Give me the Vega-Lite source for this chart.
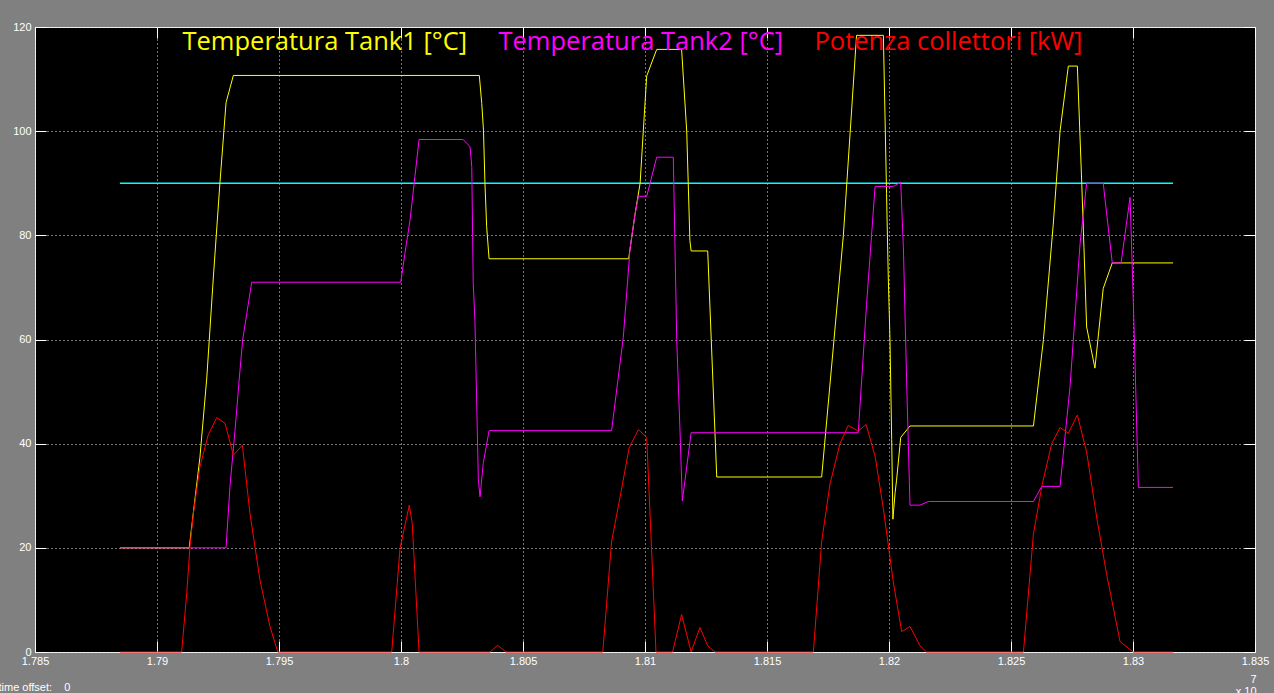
{
  "$schema": "https://vega.github.io/schema/vega-lite/v6.json",
  "width": 1220,
  "height": 625,
  "autosize": {"type": "none"},
  "padding": {"left": 35, "top": 27, "right": 19, "bottom": 41},
  "background": "#808080",
  "config": {
    "view": {"fill": "#000000", "stroke": "#e8e8e8", "strokeWidth": 1},
    "axis": {
      "labelFont": "Liberation Sans",
      "labelFontSize": 11,
      "labelColor": "#ffffff",
      "labelFlush": false,
      "labelOverlap": false,
      "tickColor": "#ffffff",
      "tickSize": -11,
      "tickWidth": 1,
      "domain": false,
      "gridColor": "#ffffff",
      "gridDash": [1, 3],
      "gridWidth": 1,
      "gridOpacity": 0.9,
      "titleFont": "Liberation Sans",
      "titleFontSize": 11,
      "titleFontWeight": "normal",
      "titleColor": "#ffffff"
    },
    "line": {"strokeWidth": 1}
  },
  "datasets": {
    "soglia": [
      {"t": 1.78848, "v": 90},
      {"t": 1.83164, "v": 90}
    ],
    "tank1": [
      {"t": 1.78848, "v": 20}, {"t": 1.79132, "v": 20}, {"t": 1.79176, "v": 37.4}, {"t": 1.79204, "v": 52.6},
      {"t": 1.79231, "v": 72}, {"t": 1.79258, "v": 90.1}, {"t": 1.79283, "v": 105.5}, {"t": 1.79313, "v": 110.7},
      {"t": 1.80321, "v": 110.7}, {"t": 1.80331, "v": 105.3}, {"t": 1.80338, "v": 100.2}, {"t": 1.80344, "v": 90.1},
      {"t": 1.80351, "v": 81.7}, {"t": 1.80361, "v": 75.5}, {"t": 1.80933, "v": 75.5}, {"t": 1.80959, "v": 84},
      {"t": 1.8098, "v": 90}, {"t": 1.80993, "v": 100}, {"t": 1.81007, "v": 110.6}, {"t": 1.81048, "v": 115.7},
      {"t": 1.8115, "v": 115.7}, {"t": 1.81171, "v": 100}, {"t": 1.81184, "v": 79}, {"t": 1.81189, "v": 77},
      {"t": 1.81257, "v": 77}, {"t": 1.81294, "v": 33.6}, {"t": 1.81724, "v": 33.6}, {"t": 1.81813, "v": 80},
      {"t": 1.81867, "v": 118.4}, {"t": 1.81977, "v": 118.4}, {"t": 1.8199, "v": 88}, {"t": 1.81997, "v": 72},
      {"t": 1.82004, "v": 60}, {"t": 1.82011, "v": 40.8}, {"t": 1.82016, "v": 25.5}, {"t": 1.82025, "v": 30.6},
      {"t": 1.82031, "v": 33}, {"t": 1.82048, "v": 41.2}, {"t": 1.82086, "v": 43.4}, {"t": 1.82592, "v": 43.4},
      {"t": 1.82633, "v": 60}, {"t": 1.82673, "v": 82}, {"t": 1.82701, "v": 100}, {"t": 1.82735, "v": 112.5},
      {"t": 1.82772, "v": 112.5}, {"t": 1.8279, "v": 90}, {"t": 1.82799, "v": 77.6}, {"t": 1.8281, "v": 62.4},
      {"t": 1.82844, "v": 54.5}, {"t": 1.82878, "v": 69.8}, {"t": 1.82915, "v": 74.7}, {"t": 1.83164, "v": 74.7}
    ],
    "tank2": [
      {"t": 1.78848, "v": 20}, {"t": 1.79283, "v": 20}, {"t": 1.79299, "v": 31.8}, {"t": 1.7932, "v": 42.7},
      {"t": 1.79337, "v": 52.4}, {"t": 1.79351, "v": 59.9}, {"t": 1.79368, "v": 65}, {"t": 1.79388, "v": 71},
      {"t": 1.79999, "v": 71}, {"t": 1.80016, "v": 76.5}, {"t": 1.80037, "v": 82.9}, {"t": 1.80057, "v": 91.3},
      {"t": 1.80074, "v": 98.4}, {"t": 1.80255, "v": 98.4}, {"t": 1.80283, "v": 97}, {"t": 1.8029, "v": 93.2},
      {"t": 1.80296, "v": 70.8}, {"t": 1.80303, "v": 63.7}, {"t": 1.8031, "v": 48.4}, {"t": 1.80317, "v": 33},
      {"t": 1.80324, "v": 29.8}, {"t": 1.80337, "v": 36.2}, {"t": 1.80361, "v": 42.5}, {"t": 1.80863, "v": 42.5},
      {"t": 1.80911, "v": 60.4}, {"t": 1.80939, "v": 77.6}, {"t": 1.80959, "v": 84}, {"t": 1.80973, "v": 87.5},
      {"t": 1.81007, "v": 87.5}, {"t": 1.81048, "v": 95}, {"t": 1.81116, "v": 95}, {"t": 1.8113, "v": 60},
      {"t": 1.81143, "v": 43}, {"t": 1.81153, "v": 29}, {"t": 1.81189, "v": 42.1}, {"t": 1.81874, "v": 42.1},
      {"t": 1.81908, "v": 66.7}, {"t": 1.81943, "v": 89.4}, {"t": 1.82018, "v": 89.4}, {"t": 1.82048, "v": 90.2},
      {"t": 1.82059, "v": 77.6}, {"t": 1.82072, "v": 52.5}, {"t": 1.82086, "v": 28.2}, {"t": 1.82127, "v": 28.2},
      {"t": 1.82161, "v": 28.9}, {"t": 1.82592, "v": 28.9}, {"t": 1.82626, "v": 31.8}, {"t": 1.82701, "v": 31.8},
      {"t": 1.82742, "v": 51}, {"t": 1.82783, "v": 78.4}, {"t": 1.8281, "v": 90}, {"t": 1.82878, "v": 90},
      {"t": 1.82915, "v": 74.7}, {"t": 1.82951, "v": 74.7}, {"t": 1.82988, "v": 87.3}, {"t": 1.83001, "v": 67.8},
      {"t": 1.83008, "v": 56}, {"t": 1.83022, "v": 31.6}, {"t": 1.83164, "v": 31.6}
    ],
    "potenza": [
      {"t": 1.78848, "v": 0}, {"t": 1.79101, "v": 0}, {"t": 1.79122, "v": 11.3}, {"t": 1.79135, "v": 20.2},
      {"t": 1.79149, "v": 26.6}, {"t": 1.79176, "v": 35.6}, {"t": 1.7921, "v": 41.7}, {"t": 1.79245, "v": 45},
      {"t": 1.79279, "v": 43.9}, {"t": 1.79313, "v": 37.8}, {"t": 1.7935, "v": 39.7}, {"t": 1.79381, "v": 26.6},
      {"t": 1.79422, "v": 13.8}, {"t": 1.79463, "v": 4.9}, {"t": 1.79495, "v": 0}, {"t": 1.79962, "v": 0},
      {"t": 1.79996, "v": 19.9}, {"t": 1.80034, "v": 28.2}, {"t": 1.80046, "v": 24.7}, {"t": 1.80074, "v": 0},
      {"t": 1.80365, "v": 0}, {"t": 1.80396, "v": 1.3}, {"t": 1.8043, "v": 0}, {"t": 1.80827, "v": 0},
      {"t": 1.80863, "v": 21.2}, {"t": 1.80898, "v": 29.8}, {"t": 1.80935, "v": 39.2}, {"t": 1.80973, "v": 42.7},
      {"t": 1.81007, "v": 41.2}, {"t": 1.81027, "v": 19.6}, {"t": 1.81045, "v": 0}, {"t": 1.81113, "v": 0},
      {"t": 1.8115, "v": 7.2}, {"t": 1.81189, "v": 0}, {"t": 1.81225, "v": 4.7}, {"t": 1.81257, "v": 1.2},
      {"t": 1.81287, "v": 0}, {"t": 1.8169, "v": 0}, {"t": 1.81724, "v": 21.2}, {"t": 1.81758, "v": 32.2},
      {"t": 1.81799, "v": 40}, {"t": 1.81833, "v": 43.5}, {"t": 1.81874, "v": 42.4}, {"t": 1.81906, "v": 43.7},
      {"t": 1.81943, "v": 37.6}, {"t": 1.81977, "v": 27.5}, {"t": 1.82018, "v": 13.3}, {"t": 1.82052, "v": 3.9},
      {"t": 1.82086, "v": 4.9}, {"t": 1.82127, "v": 1.2}, {"t": 1.82154, "v": 0}, {"t": 1.82551, "v": 0},
      {"t": 1.82592, "v": 22.7}, {"t": 1.82628, "v": 32.2}, {"t": 1.82667, "v": 40}, {"t": 1.82701, "v": 43.1},
      {"t": 1.82735, "v": 42}, {"t": 1.82772, "v": 45.5}, {"t": 1.8281, "v": 38.4}, {"t": 1.82851, "v": 25.9},
      {"t": 1.82892, "v": 14.9}, {"t": 1.82947, "v": 2}, {"t": 1.83001, "v": 0}, {"t": 1.83164, "v": 0}
    ]
  },
  "layer": [
    {
      "data": {"name": "soglia"},
      "mark": {"type": "line", "color": "#00ffff", "strokeWidth": 1.3},
      "encoding": {
        "x": {
          "field": "t",
          "type": "quantitative",
          "scale": {"domain": [1.785, 1.835], "nice": false, "zero": false},
          "axis": {
            "orient": "bottom",
            "values": [1.785, 1.79, 1.795, 1.8, 1.805, 1.81, 1.815, 1.82, 1.825, 1.83, 1.835],
            "format": ".3~f",
            "labelPadding": 14,
            "grid": true,
            "title": ["7", "x 10\u00a0\u00a0"],
            "titleX": 1221,
            "titleY": 30,
            "titleAlign": "right",
            "titleBaseline": "alphabetic",
            "titleLineHeight": 12
          }
        },
        "y": {
          "field": "v",
          "type": "quantitative",
          "scale": {"domain": [0, 120], "nice": false, "zero": true},
          "axis": {
            "orient": "left",
            "values": [0, 20, 40, 60, 80, 100, 120],
            "format": "d",
            "labelPadding": 15,
            "grid": true,
            "title": "time\u00a0offset:\u00a0\u00a0\u00a0\u00a00",
            "titleAngle": 0,
            "titleX": -37,
            "titleY": 663,
            "titleAlign": "left",
            "titleBaseline": "alphabetic"
          }
        }
      }
    },
    {
      "data": {"name": "tank1"},
      "mark": "line",
      "encoding": {
        "x": {
          "field": "t",
          "type": "quantitative",
          "axis": {
            "orient": "top",
            "values": [1.785, 1.79, 1.795, 1.8, 1.805, 1.81, 1.815, 1.82, 1.825, 1.83, 1.835],
            "labels": false,
            "grid": false,
            "title": null
          }
        },
        "y": {
          "field": "v",
          "type": "quantitative",
          "axis": {
            "orient": "right",
            "values": [0, 20, 40, 60, 80, 100, 120],
            "labels": false,
            "grid": false,
            "title": null
          }
        },
        "color": {
          "datum": "Temperatura Tank1 [°C]",
          "type": "nominal",
          "scale": {
            "domain": ["Temperatura Tank1 [°C]", "Temperatura Tank2 [°C]", "Potenza collettori [kW]"],
            "range": ["#ffff00", "#ff00ff", "#ff0000"]
          },
          "legend": {
            "orient": "none",
            "legendX": 122,
            "legendY": 2,
            "direction": "horizontal",
            "title": null,
            "padding": 0,
            "symbolSize": 0,
            "symbolStrokeWidth": 0,
            "symbolOpacity": 0,
            "labelOffset": 0,
            "labelFont": "Open Sans",
            "labelFontSize": 25.5,
            "labelLimit": 500,
            "labelColor": "#ffffff",
            "columnPadding": 5,
            "encoding": {
              "labels": {
                "fill": {
                  "condition": [
                    {"test": "datum.value === 'Temperatura Tank1 [°C]'", "value": "#ffff00"},
                    {"test": "datum.value === 'Temperatura Tank2 [°C]'", "value": "#ff00ff"}
                  ],
                  "value": "#ff0000"
                }
              }
            }
          }
        }
      }
    },
    {
      "data": {"name": "tank2"},
      "mark": "line",
      "encoding": {
        "x": {"field": "t", "type": "quantitative", "axis": null},
        "y": {"field": "v", "type": "quantitative", "axis": null},
        "color": {"datum": "Temperatura Tank2 [°C]", "type": "nominal"}
      }
    },
    {
      "data": {"name": "potenza"},
      "mark": "line",
      "encoding": {
        "x": {"field": "t", "type": "quantitative", "axis": null},
        "y": {"field": "v", "type": "quantitative", "axis": null},
        "color": {"datum": "Potenza collettori [kW]", "type": "nominal"}
      }
    }
  ],
  "resolve": {"axis": {"x": "independent", "y": "independent"}}
}
